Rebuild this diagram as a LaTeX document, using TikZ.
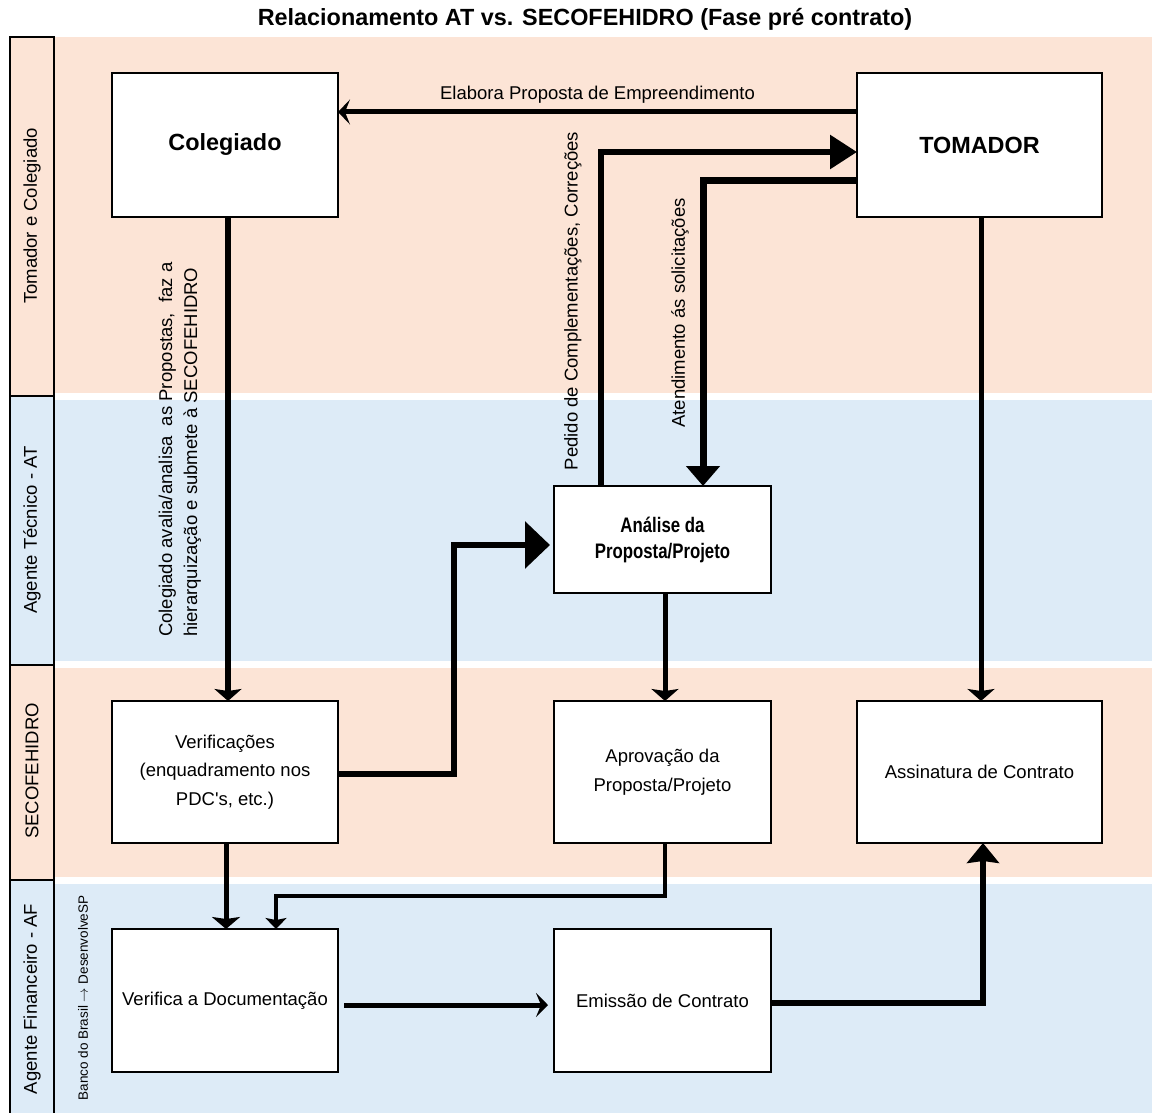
\documentclass[tikz,border=0pt]{standalone}
\usepackage{fontspec}
\setmainfont{Liberation Sans}
\newfontfamily\narrowsans[FakeStretch=0.8]{Liberation Sans}
\usetikzlibrary{arrows.meta}
\definecolor{lanepeach}{HTML}{FCE4D6}
\definecolor{laneblue}{HTML}{DDEBF7}
\tikzset{
  txt/.style={font=\fontsize{18.5}{22}\selectfont, inner sep=0pt},
  lanelabel/.style={txt, rotate=90},
  lanebox/.style={draw=black, line width=2.5pt},
  box/.style={draw=black, line width=2pt, fill=white, outer sep=0pt, inner sep=2pt,
    align=center, font=\fontsize{18.5}{28.5}\selectfont},
  bigtitle/.style={font=\bfseries\fontsize{23.4}{28}\selectfont},
  flow/.style={line width=5pt, -{Stealth[length=12pt,width=27pt,inset=2pt]}},
}
\begin{document}
\begin{tikzpicture}[x=1pt,y=-1pt]
\useasboundingbox (0,0) rectangle (1152,1113);

% swimlane bands
\fill[lanepeach] (54,37) rectangle (1152,393);
\fill[laneblue] (54,400) rectangle (1152,661);
\fill[lanepeach] (54,668) rectangle (1152,877);
\fill[laneblue] (54,884) rectangle (1152,1113);

% lane headers
\draw[lanebox, fill=lanepeach] (10,37) rectangle (54,396);
\draw[lanebox, fill=laneblue] (10,396) rectangle (54,665);
\draw[lanebox, fill=lanepeach] (10,665) rectangle (54,880);
\draw[lanebox, fill=laneblue] (10,880) rectangle (54,1125);

\node[lanelabel] (lane1) at (32,216) {Tomador e Colegiado};
\node[lanelabel] (lane2) at (32,530) {Agente Técnico - AT};
\node[lanelabel] (lane3) at (32,771) {SECOFEHIDRO};
\node[lanelabel] (lane4) at (32,999) {Agente Financeiro - AF};
\node[txt, rotate=90, font=\fontsize{13.5}{16}\selectfont] (bank) at (83,998)
  {Banco do Brasil $\rightarrow$ DesenvolveSP};

% title
\node[bigtitle] (title) at (585,19) {Relacionamento AT vs. SECOFEHIDRO (Fase pré contrato)};

% process boxes
\node[box, bigtitle, minimum width=226pt, minimum height=144pt] (col) at (225,145) {Colegiado};
\node[box, bigtitle, minimum width=245pt, minimum height=144pt] (tom) at (979.5,145) {TOMADOR};
\node[box, minimum width=217pt, minimum height=107pt,
  font=\narrowsans\bfseries\fontsize{21}{26}\selectfont] (ana) at (662.5,539.5)
  {Análise da\\Proposta/Projeto};
\node[box, minimum width=226pt, minimum height=142pt] (ver) at (225,772)
  {Verificações\\(enquadramento nos\\PDC\textquotesingle s, etc.)};
\node[box, minimum width=217pt, minimum height=142pt] (apr) at (662.5,772)
  {Aprovação da\\Proposta/Projeto};
\node[box, minimum width=245pt, minimum height=142pt] (ass) at (979.5,772)
  {Assinatura de Contrato};
\node[box, minimum width=226pt, minimum height=143pt] (doc) at (225,1000.5)
  {Verifica a Documentação};
\node[box, minimum width=217pt, minimum height=143pt] (emi) at (662.5,1000.5)
  {Emissão de Contrato};

% connectors
\draw[line width=5pt, -{Stealth[length=12pt,width=25pt,inset=5pt]}]
  (tom.west |- 0,112) -- (col.east |- 0,112)
  node[txt, midway, yshift=17pt] (lblela) {Elabora Proposta de Empreendimento};

\draw[line width=6pt, -{Triangle[length=27pt,width=33pt]}]
  (ana.north -| 601,0) -- (601,152) -- (tom.west |- 0,152);
\node[lanelabel] (lblped) at (573,301) {Pedido de Complementações, Correções};

\draw[line width=7pt, -{Triangle[length=20pt,width=33pt]}]
  (tom.west |- 0,181) -- (703,181) -- (ana.north -| 703,0);
\node[lanelabel] (lblate) at (680,313) {Atendimento ás solicitações};

\draw[flow, line width=6pt] (col.south -| 228,0) -- (ver.north -| 228,0);
\node[txt, rotate=90, anchor=west, align=left, font=\fontsize{18.5}{25}\selectfont]
  (lblcol) at (180,637)
  {Colegiado avalia/analisa\ \ as Propostas,\ \ faz a\\hierarquização e submete à SECOFEHIDRO};

\draw[line width=6.5pt, shorten >=4pt, -{Triangle[length=25pt,width=46pt]}]
  (ver.east |- 0,774) -- (454,774) -- (454,545) -- (ana.west |- 0,545);

\draw[flow] (ana.south -| 665,0) -- (apr.north -| 665,0);
\draw[flow] (tom.south -| 981,0) -- (ass.north -| 981,0);
\draw[flow, -{Stealth[length=12pt,width=28pt,inset=2pt]}] (ver.south -| 226,0) -- (doc.north -| 226,0);
\draw[line width=4pt, -{Stealth[length=11pt,width=21pt,inset=2pt]}]
  (apr.south -| 665,0) -- (665,896) -- (276,896) -- (doc.north -| 276,0);
\draw[line width=5pt, shorten <=6pt, shorten >=6pt, -{Stealth[length=12pt,width=24pt,inset=5pt]}]
  (doc.east |- 0,1005) -- (emi.west |- 0,1005);
\draw[line width=6pt, -{Stealth[length=20pt,width=32pt,inset=2pt]}]
  (emi.east |- 0,1003) -- (983,1003) -- (ass.south -| 983,0);
\end{tikzpicture}
\end{document}
